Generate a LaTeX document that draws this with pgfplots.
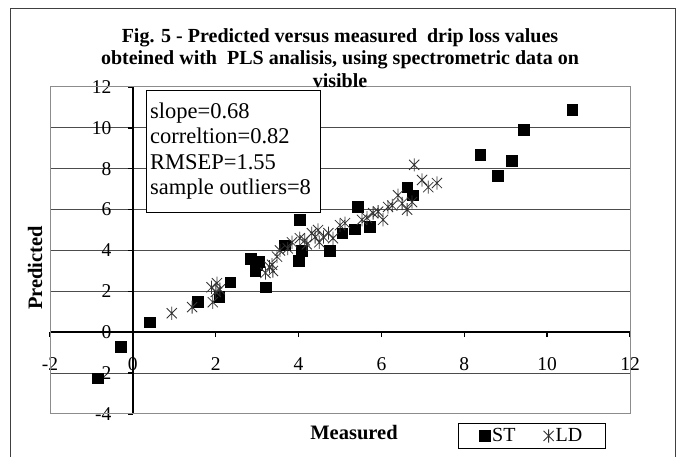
\documentclass[border=0pt]{standalone}
\usepackage{fontspec}
\setmainfont{Liberation Serif}
\usepackage{pgfplots}
\pgfplotsset{compat=1.18}
\pgfdeclareplotmark{ast}{%
  \pgfpathmoveto{\pgfpoint{-0.85\pgfplotmarksize}{-0.85\pgfplotmarksize}}%
  \pgfpathlineto{\pgfpoint{0.85\pgfplotmarksize}{0.85\pgfplotmarksize}}%
  \pgfpathmoveto{\pgfpoint{-0.85\pgfplotmarksize}{0.85\pgfplotmarksize}}%
  \pgfpathlineto{\pgfpoint{0.85\pgfplotmarksize}{-0.85\pgfplotmarksize}}%
  \pgfpathmoveto{\pgfpoint{0pt}{-1.1\pgfplotmarksize}}%
  \pgfpathlineto{\pgfpoint{0pt}{1.1\pgfplotmarksize}}%
  \pgfusepathqstroke}
\begin{document}
\begin{tikzpicture}
\useasboundingbox (0pt,0pt) rectangle (679pt,457pt);
\draw[line width=0.9pt, black!75] (10pt,-3pt) -- (10pt,449pt) -- (675pt,449pt) -- (675pt,-3pt);
\begin{axis}[
  at={(50pt,43pt)}, anchor=south west,
  width=580pt, height=327pt, scale only axis,
  xmin=-2, xmax=12, ymin=-4, ymax=12,
  axis x line=middle, axis y line=middle,
  axis line style={-, line width=1.6pt, black},
  every inner x axis line/.append style={-},
  every inner y axis line/.append style={-},
  hide obscured x ticks=false, hide obscured y ticks=false,
  xtick={-2,0,...,12},
  ytick={-2,0,...,10},
  extra y ticks={-4,12},
  extra y tick style={grid=none},
  ymajorgrids,
  grid style={black!70, line width=1pt},
  tick align=outside,
  major tick length=5pt,
  tick style={line width=1.4pt, black},
  ticklabel style={font=\fontsize{19.5}{20}\selectfont},
  /pgf/number format/assume math mode=true,
  xticklabel style={yshift=-17pt},
  yticklabel style={xshift=-13pt},
  legend style={at={(0.831,-0.067)}, anchor=center, legend columns=2,
    draw=black, line width=0.9pt, font=\fontsize{20}{21}\selectfont,
    inner xsep=21pt, inner ysep=3pt,
    /tikz/every even column/.append style={column sep=26pt}},
  legend cell align=left,
  clip=false,
]
\draw[black!45, line width=1pt] (rel axis cs:0,0) rectangle (rel axis cs:1,1);
\addplot[only marks, mark=square*, mark size=5.3pt, black] coordinates {
(-0.85,-2.25) (-0.3,-0.72) (0.4,0.5) (1.57,1.5) (2.08,1.75) (2.35,2.45)
(2.85,3.6) (2.95,3.0) (3.0,3.3) (3.05,3.45) (3.2,2.2) (3.67,4.26)
(4.0,3.5) (4.08,4.0) (4.03,5.5) (4.75,4.0) (5.05,4.85) (5.35,5.05)
(5.42,6.13) (5.72,5.15) (6.62,7.1) (6.76,6.7) (8.38,8.7) (8.8,7.65)
(9.15,8.4) (9.44,9.9) (10.6,10.9)
};
\addlegendentry{ST}
\addplot[only marks, mark=ast, mark size=6pt, black!80, mark options={line width=0.8pt}] coordinates {
(0.94,0.93) (1.43,1.23) (1.93,1.47) (1.9,2.2) (2.03,2.4) (2.0,1.97) (2.1,2.1)
(3.2,2.9) (3.3,3.2) (3.38,3.0) (3.36,3.3) (3.48,3.7) (3.55,4.0) (3.74,4.1)
(3.84,4.4) (4.03,4.6) (4.15,4.5) (4.2,4.3) (4.32,4.85) (4.4,4.66) (4.47,5.0)
(4.5,4.4) (4.6,4.66) (4.72,4.85) (4.83,4.6) (5.0,5.24) (5.12,5.34) (5.53,5.5)
(5.65,5.6) (5.8,5.83) (5.92,5.9) (6.04,5.5) (6.16,6.13) (6.26,6.2) (6.4,6.7)
(6.5,6.3) (6.62,6.0) (6.74,6.37) (6.79,8.19) (6.98,7.45) (7.13,7.1) (7.34,7.3)
};
\addlegendentry{LD}
\node[draw, line width=0.9pt, fill=white, anchor=north west, align=left,
  minimum width=174pt, minimum height=122pt, inner sep=0pt] at (axis cs:0.31,11.86)
  {\begin{minipage}{166pt}\raggedright\fontsize{22.5}{25.5}\selectfont
  slope=0.68\\correltion=0.82\\RMSEP=1.55\\sample outliers=8\end{minipage}};
\end{axis}
\node[font=\bfseries\fontsize{20}{22.5}\selectfont, align=center] at (340pt,399pt)
  {Fig. 5 - Predicted versus measured \ drip loss values\\obteined with \ PLS analisis, using spectrometric data on\\visible};
\node[font=\bfseries\fontsize{20.5}{21}\selectfont] at (354pt,24pt) {Measured};
\node[font=\bfseries\fontsize{20.5}{21}\selectfont, rotate=90] at (35pt,189pt) {Predicted};
\end{tikzpicture}
\end{document}
